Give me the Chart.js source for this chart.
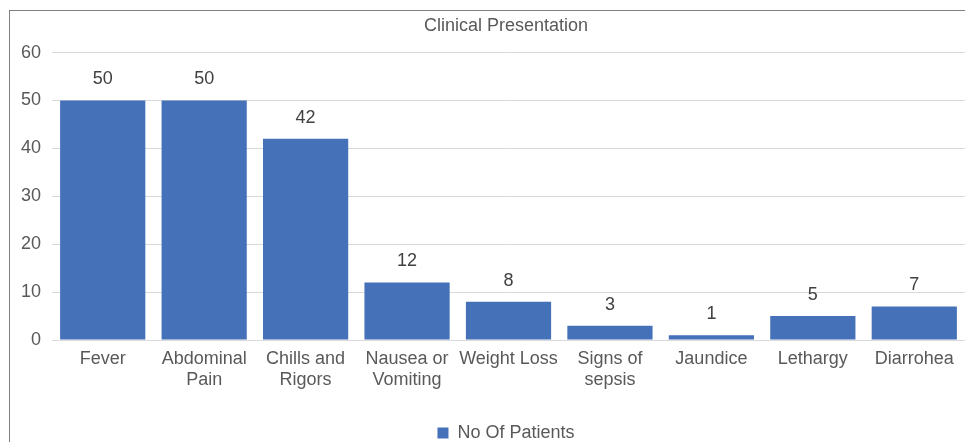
<!DOCTYPE html>
<html>
<head>
<meta charset="utf-8">
<script src="https://cdn.jsdelivr.net/npm/chart.js@4"></script>
<style>
  body { margin: 0; background: #fff; overflow: hidden; }
  #frame {
    position: absolute; left: 9px; top: 10px;
    width: 993px; height: 441px;
    border-left: 1px solid #7f7f7f; border-top: 1px solid #7f7f7f;
  }
  canvas { display: block; }
</style>
</head>
<body>
<div id="frame"><canvas id="chart" width="992" height="441"></canvas></div>
<script>
// Daten des Diagramms
const categories = [
  "Fever", ["Abdominal", "Pain"], ["Chills and", "Rigors"], ["Nausea or", "Vomiting"],
  "Weight Loss", ["Signs of", "sepsis"], "Jaundice", "Lethargy", "Diarrohea"
];
const patients = [50, 50, 42, 12, 8, 3, 1, 5, 7];
const yTicks = [0, 10, 20, 30, 40, 50, 60];

const font = "'Liberation Sans', Arial, sans-serif";

// Werte über den Balken zeichnen
const valueLabels = {
  id: "valueLabels",
  afterDatasetsDraw(chart) {
    const ctx = chart.ctx;
    const meta = chart.getDatasetMeta(0);
    ctx.save();
    ctx.font = "18px " + font;
    ctx.fillStyle = "#404040";
    ctx.textAlign = "center";
    ctx.textBaseline = "middle";
    meta.data.forEach((bar, i) => {
      ctx.fillText(patients[i], bar.x, bar.y - 21);
    });
    ctx.restore();
  }
};

new Chart(document.getElementById("chart"), {
  type: "bar",
  data: {
    labels: categories,
    datasets: [{
      label: "No Of Patients",
      data: patients,
      backgroundColor: "#4571B9",
      barPercentage: 1,
      categoryPercentage: 0.84
    }]
  },
  options: {
    responsive: false,
    animation: false,
    layout: { padding: 0 },
    plugins: {
      title: {
        display: true,
        text: "Clinical Presentation",
        color: "#595959",
        font: { family: font, size: 18, weight: "normal" },
        padding: { top: 4, bottom: 16 }
      },
      legend: {
        position: "bottom",
        labels: {
          color: "#595959",
          font: { family: font, size: 18 },
          boxWidth: 11,
          boxHeight: 11,
          padding: 2
        }
      },
      tooltip: { enabled: false }
    },
    scales: {
      x: {
        afterFit: axis => { axis.height = 82; },
        grid: { display: false, drawTicks: false },
        border: { color: "#d9d9d9" },
        ticks: {
          color: "#595959",
          font: { family: font, size: 18, lineHeight: 1.2 },
          maxRotation: 0,
          autoSkip: false,
          padding: 8
        }
      },
      y: {
        min: 0,
        max: 60,
        afterBuildTicks: axis => { axis.ticks = yTicks.map(v => ({ value: v })); },
        afterFit: axis => { axis.width = 42; },
        grid: { color: "#d9d9d9", drawTicks: false },
        border: { display: false },
        ticks: {
          color: "#595959",
          font: { family: font, size: 18 },
          padding: 11
        }
      },
      // leere rechte Achse, damit Titel und Legende mittig über dem ganzen Diagramm stehen
      yRight: {
        position: "right",
        min: 0,
        max: 1,
        afterFit: axis => { axis.width = 37; },
        grid: { display: false, drawTicks: false },
        border: { display: false },
        ticks: { display: false }
      }
    }
  },
  plugins: [valueLabels]
});
</script>
</body>
</html>
